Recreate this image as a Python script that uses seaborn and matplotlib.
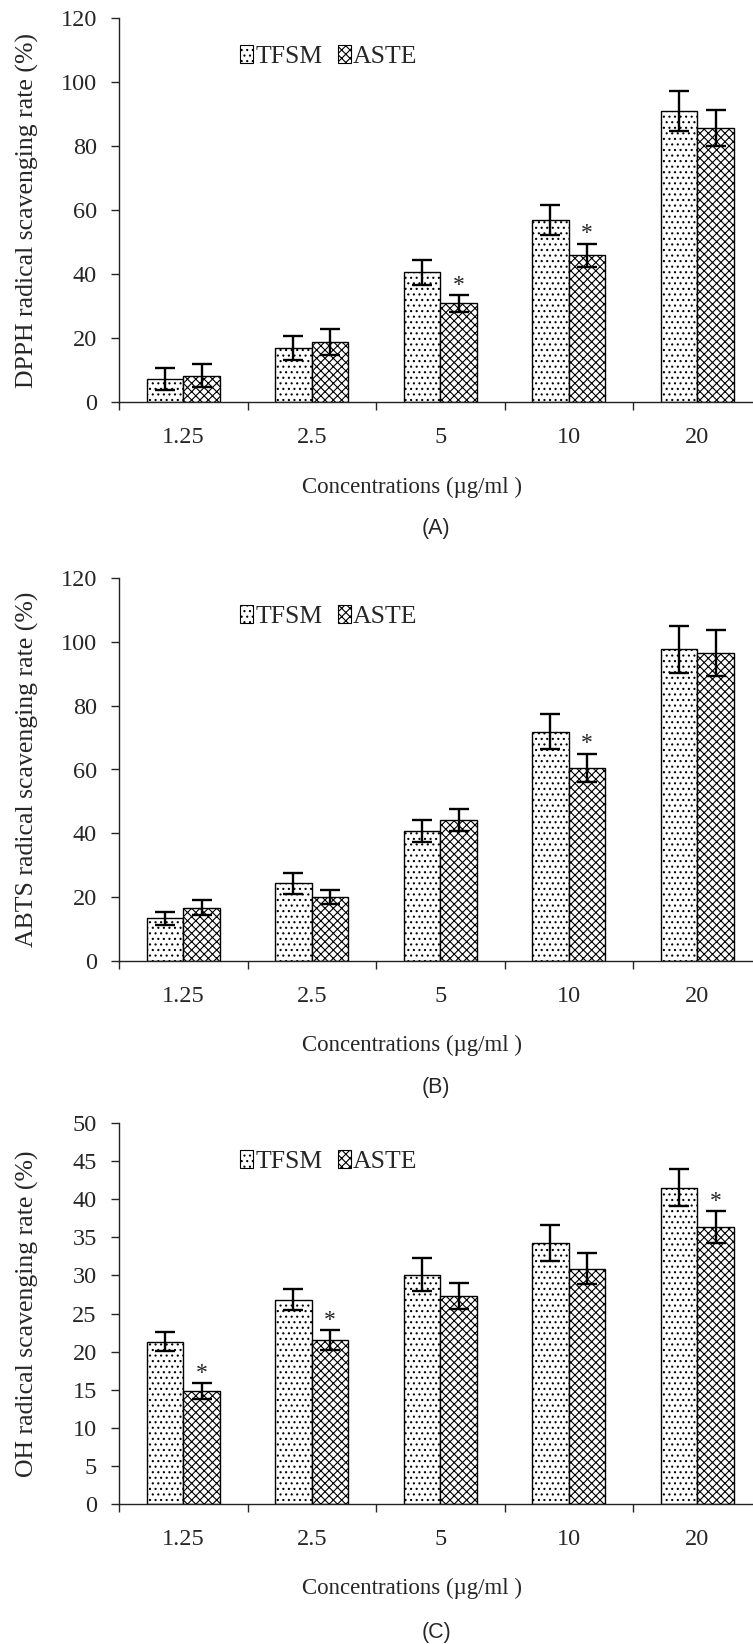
import seaborn as sns
import pandas as pd
import numpy as np
import matplotlib.pyplot as plt
import matplotlib.patches as mpatches

conc = ['1.25', '2.5', '5', '10', '20']
groups = ['TFSM', 'ASTE']

# (A) DPPH
dpph_tfsm = [7.2, 16.8, 40.5, 56.9, 91.0]
dpph_tfsm_err = [3.5, 3.7, 3.8, 4.8, 6.2]
dpph_aste = [8.2, 18.8, 30.8, 45.9, 85.7]
dpph_aste_err = [3.6, 4.0, 2.6, 3.6, 5.6]
dpph_star = [False, False, True, True, False]

# (B) ABTS
abts_tfsm = [13.4, 24.3, 40.8, 71.9, 97.6]
abts_tfsm_err = [2.0, 3.3, 3.4, 5.5, 7.4]
abts_aste = [16.7, 20.2, 44.2, 60.6, 96.4]
abts_aste_err = [2.3, 2.2, 3.5, 4.4, 7.2]
abts_star = [False, False, False, True, False]

# (C) OH
oh_tfsm = [21.3, 26.8, 30.1, 34.2, 41.5]
oh_tfsm_err = [1.25, 1.4, 2.15, 2.35, 2.45]
oh_aste = [14.8, 21.5, 27.3, 30.9, 36.3]
oh_aste_err = [1.05, 1.3, 1.7, 2.05, 2.1]
oh_star = [True, True, False, False, True]

sns.set_theme(style='ticks')
plt.rcParams['font.family'] = ['Liberation Serif', 'DejaVu Sans']
plt.rcParams['hatch.linewidth'] = 0.8
plt.rcParams['axes.linewidth'] = 1.0
plt.rcParams['axes.edgecolor'] = '#222222'

W, H = 753, 1644
fig = plt.figure(figsize=(W / 100, H / 100), dpi=100)

hatches = {'TFSM': '...', 'ASTE': 'xxxx'}


def draw_panel(top, bottom, tfsm, tfsm_err, aste, aste_err, stars,
               ylabel, ymax, ystep, tag, xlab_y, tag_y):
    left, right = 119, 761.5
    ax = fig.add_axes([left / W, 1 - bottom / H, (right - left) / W, (bottom - top) / H])
    df = pd.DataFrame({
        'conc': conc * 2,
        'group': ['TFSM'] * 5 + ['ASTE'] * 5,
        'value': list(tfsm) + list(aste),
    })
    sns.barplot(data=df, x='conc', y='value', hue='group', order=conc,
                hue_order=groups, palette={'TFSM': 'white', 'ASTE': 'white'},
                width=0.57, gap=0, errorbar=None, edgecolor='black',
                linewidth=1.0, legend=False, saturation=1, ax=ax)
    errs = {'TFSM': tfsm_err, 'ASTE': aste_err}
    vals = {'TFSM': tfsm, 'ASTE': aste}
    for g, cont in zip(groups, ax.containers):
        xs = []
        for p in cont:
            p.set_hatch(hatches[g])
            xs.append(p.get_x() + p.get_width() / 2)
        ax.errorbar(xs, vals[g], yerr=errs[g], fmt='none', ecolor='black',
                    elinewidth=1.7, capsize=7, capthick=1.7, zorder=5)
        if g == 'ASTE':
            for x, v, e, s in zip(xs, aste, aste_err, stars):
                if s:
                    ax.annotate('*', (x, v + e), xytext=(0, 3),
                                textcoords='offset points', ha='center',
                                va='baseline', fontsize=17, color='#222222')

    ax.set_xlim(-0.5, 4.5)
    ax.set_ylim(0, ymax)
    ax.set_yticks(np.arange(0, ymax + 0.1, ystep))
    ax.set_xticks(range(5))
    ax.set_xticklabels(conc)
    ax.set_xticks(np.arange(-0.5, 5, 1), minor=True)
    ax.tick_params(axis='x', which='major', length=0, pad=18, labelsize=17.5)
    ax.tick_params(axis='x', which='minor', length=6, width=1.0, direction='out')
    ax.tick_params(axis='y', length=6, width=1.0, pad=10, labelsize=17.5)
    sns.despine(ax=ax)

    ax.set_ylabel(ylabel, fontsize=18.5)
    ax.yaxis.set_label_coords((27 - left) / (right - left), 0.5)
    ax.yaxis.label.set_va('center')
    ax.set_xlabel('Concentrations (µg/ml )', fontsize=16.5)
    ax.xaxis.set_label_coords((412 - left) / (right - left),
                              (bottom - xlab_y) / (bottom - top))
    ax.xaxis.label.set_va('center')

    handles = [mpatches.Patch(facecolor='white', edgecolor='black',
                              hatch=hatches[g], linewidth=0.8, label=g) for g in groups]
    ax.legend(handles=handles, loc='center left', bbox_to_anchor=(0.188, 0.9),
              ncol=2, frameon=False, fontsize=18.5, handlelength=0.5,
              handleheight=0.7, handletextpad=0.1, columnspacing=0.6,
              borderpad=0, borderaxespad=0)

    fig.text(436 / W, 1 - tag_y / H, tag, ha='center', va='center',
             fontsize=15.5, family='Liberation Sans')


draw_panel(18, 402, dpph_tfsm, dpph_tfsm_err, dpph_aste, dpph_aste_err, dpph_star,
           'DPPH radical scavenging rate (%)', 120, 20, '(A)', 487, 528)
draw_panel(578, 961, abts_tfsm, abts_tfsm_err, abts_aste, abts_aste_err, abts_star,
           'ABTS radical scavenging rate (%)', 120, 20, '(B)', 1045, 1087)
draw_panel(1123, 1504, oh_tfsm, oh_tfsm_err, oh_aste, oh_aste_err, oh_star,
           'OH radical scavenging rate (%)', 50, 5, '(C)', 1588, 1632)

fig.savefig('out.png', dpi=100, facecolor='white')
